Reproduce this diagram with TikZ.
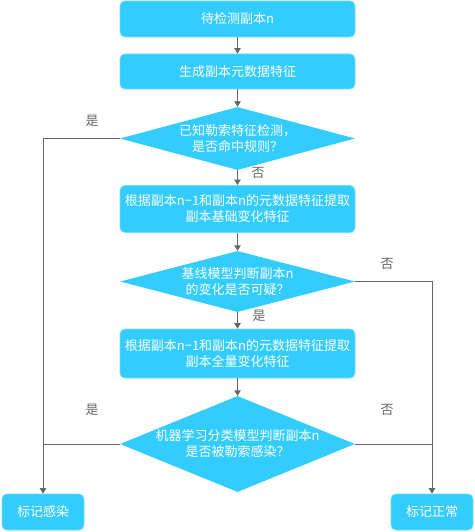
\documentclass[tikz,border=0pt]{standalone}
\usepackage{fontspec}
\setmainfont{Noto Sans CJK SC}
\usetikzlibrary{shapes.geometric,arrows.meta}
\definecolor{boxfill}{RGB}{51,204,255}
\definecolor{boxline}{RGB}{110,220,255}
\definecolor{linec}{RGB}{102,102,102}
\begin{document}
\begin{tikzpicture}[x=1pt,y=-1pt,
  proc/.style={rectangle,rounded corners=5pt,fill=boxfill,draw=boxline,line width=0.8pt,
    minimum width=235pt,minimum height=36pt,inner sep=0pt,text=white,font=\fontsize{13pt}{16pt}\selectfont,align=center},
  endbox/.style={proc,minimum width=82pt,minimum height=36pt},
  dec/.style={diamond,fill=boxfill,draw=none,inner sep=0pt,minimum width=235pt},
  dectext/.style={text=white,font=\fontsize{13pt}{16pt}\selectfont,align=center,inner sep=0pt},
  lbl/.style={text=linec,font=\fontsize{13pt}{16pt}\selectfont,inner sep=0pt},
  conn/.style={draw=linec,line width=0.9pt},
  arr/.style={conn,-{Triangle[width=6.5pt,length=5.5pt]}}]
\useasboundingbox (0,0) rectangle (474,532);
\node[proc] (b1) at (237.5,19) {待检测副本n};
\node[proc,minimum height=35pt] (b2) at (237.5,71.5) {生成副本元数据特征};
\node[dec,minimum height=63pt] (d1) at (237.5,138.5) {};
\node[dectext] (t1) at (d1) {已知勒索特征检测，\\是否命中规则？};
\node[proc,minimum height=47pt] (b3) at (237.5,209) {根据副本n−1和副本n的元数据特征提取\\副本基础变化特征};
\node[dec,minimum height=61pt] (d2) at (237.5,281.5) {};
\node[dectext] (t2) at (d2) {基线模型判断副本n\\的变化是否可疑？};
\node[proc,minimum height=49pt] (b4) at (237.5,353.5) {根据副本n−1和副本n的元数据特征提取\\副本全量变化特征};
\node[dec,minimum height=96pt] (d3) at (237.5,444) {};
\node[dectext] (t3) at (d3) {机器学习分类模型判断副本n\\是否被勒索感染？};
\node[endbox] (b5) at (43,512) {标记感染};
\node[endbox] (b6) at (432,512) {标记正常};
\draw[arr] (b1.south) -- (b2.north);
\draw[arr] (b2.south) -- (d1.north);
\draw[arr] (d1.south) -- (b3.north);
\draw[arr] (b3.south) -- (d2.north);
\draw[arr] (d2.south) -- (b4.north);
\draw[arr] (b4.south) -- (d3.north);
\draw[arr] (d1.west) -| (b5.north);
\draw[arr] (d2.east) -| (b6.north);
\draw[conn] (d3.west) -- (d3.west -| b5.north);
\draw[conn] (d3.east) -- (d3.east -| b6.north);
\node[lbl] (l1) at (92,121) {是};
\node[lbl] (l2) at (258,173) {否};
\node[lbl] (l3) at (387,264) {否};
\node[lbl] (l4) at (259,316) {是};
\node[lbl] (l5) at (92,410) {是};
\node[lbl] (l6) at (387,410) {否};
\end{tikzpicture}
\end{document}
